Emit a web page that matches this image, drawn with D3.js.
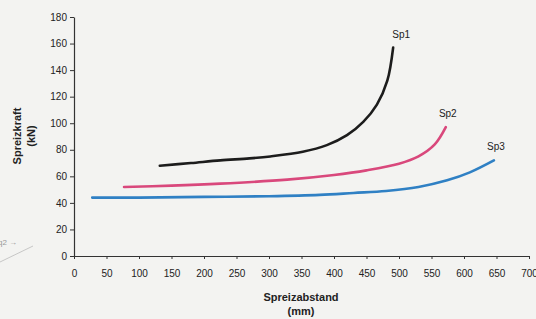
<!DOCTYPE html>
<html><head><meta charset="utf-8">
<script src="https://cdn.jsdelivr.net/npm/d3@7"></script>
<style>
html,body{margin:0;padding:0;background:#f3f3f1;}
svg{display:block;font-family:"Liberation Sans",Arial,sans-serif;}
</style></head>
<body>
<svg id="c" width="536" height="319"></svg>
<script>
const xTicks = [0,50,100,150,200,250,300,350,400,450,500,550,600,650,700];
const yTicks = [0,20,40,60,80,100,120,140,160,180];
const seriesNames = ["Sp1","Sp2","Sp3"];
const sp1X = [132,180,225,270,302,352,389,420,445,466,482,491];
const sp1Y = [68,70,72,73.5,75,78.5,83.5,91,101,114,132,157];
const sp2X = [77,150,225,328,400,450,500,530,555,572];
const sp2Y = [52,53,54.5,57.5,61,64.5,69.5,75,84,97];
const sp3X = [28,100,200,300,378,430,480,530,574,609,646];
const sp3Y = [44,44,44.5,45,46,47.5,49,52,57,63,72];
const colors = ["#1c1c1c","#d9487c","#2f80c4"];

const svg = d3.select("#c");
const x = d3.scaleLinear().domain([0,700]).range([74,529]);
const y = d3.scaleLinear().domain([0,180]).range([256,17]);

// axes
const xAxis = d3.axisBottom(x).tickValues(xTicks).tickSize(3).tickSizeOuter(0).tickPadding(11);
const gx = svg.append("g").attr("transform","translate(0,256)").call(xAxis);
gx.selectAll("text").attr("font-size",10).attr("fill","#222");
gx.selectAll("line").attr("stroke","#333");
gx.select(".domain").attr("stroke","#333").attr("stroke-width",1.2);

const yAxis = d3.axisLeft(y).tickValues(yTicks).tickSize(4).tickSizeOuter(0).tickPadding(3);
const gy = svg.append("g").attr("transform","translate(74,0)").call(yAxis);
gy.selectAll("text").attr("font-size",10).attr("fill","#222");
gy.selectAll("line").attr("stroke","#333");
gy.select(".domain").attr("stroke","#333").attr("stroke-width",1.2);

// titles
svg.append("text").attr("x",301).attr("y",301).attr("text-anchor","middle")
  .attr("font-size",11).attr("font-weight","bold").attr("fill","#222").text("Spreizabstand");
svg.append("text").attr("x",301).attr("y",315).attr("text-anchor","middle")
  .attr("font-size",11).attr("font-weight","bold").attr("fill","#222").text("(mm)");
svg.append("text").attr("transform","translate(21,136) rotate(-90)").attr("text-anchor","middle")
  .attr("font-size",11).attr("font-weight","bold").attr("fill","#222").text("Spreizkraft");
svg.append("text").attr("transform","translate(35,136) rotate(-90)").attr("text-anchor","middle")
  .attr("font-size",11).attr("font-weight","bold").attr("fill","#222").text("(kN)");

// faint scan artifact
svg.append("text").attr("x",-2).attr("y",245).attr("font-size",8).attr("fill","#999").text("q2 \u2192");
svg.append("line").attr("x1",0).attr("y1",262).attr("x2",33).attr("y2",246).attr("stroke","#bbb").attr("stroke-width",0.8);

// series
const line = d3.line().x(d=>x(d[0])).y(d=>y(d[1])).curve(d3.curveCatmullRom.alpha(0.5));
const data = [d3.zip(sp1X,sp1Y), d3.zip(sp2X,sp2Y), d3.zip(sp3X,sp3Y)];
data.forEach((pts,i)=>{
  svg.append("path").datum(pts).attr("d",line).attr("fill","none")
    .attr("stroke",colors[i]).attr("stroke-width",2.6).attr("stroke-linecap","round");
  const last = pts[pts.length-1];
  svg.append("text").attr("x",x(last[0])+(i===0?8:2)).attr("y",y(last[1])-10)
    .attr("text-anchor","middle").attr("font-size",10).attr("fill","#222").text(seriesNames[i]);
});
</script>
</body></html>
